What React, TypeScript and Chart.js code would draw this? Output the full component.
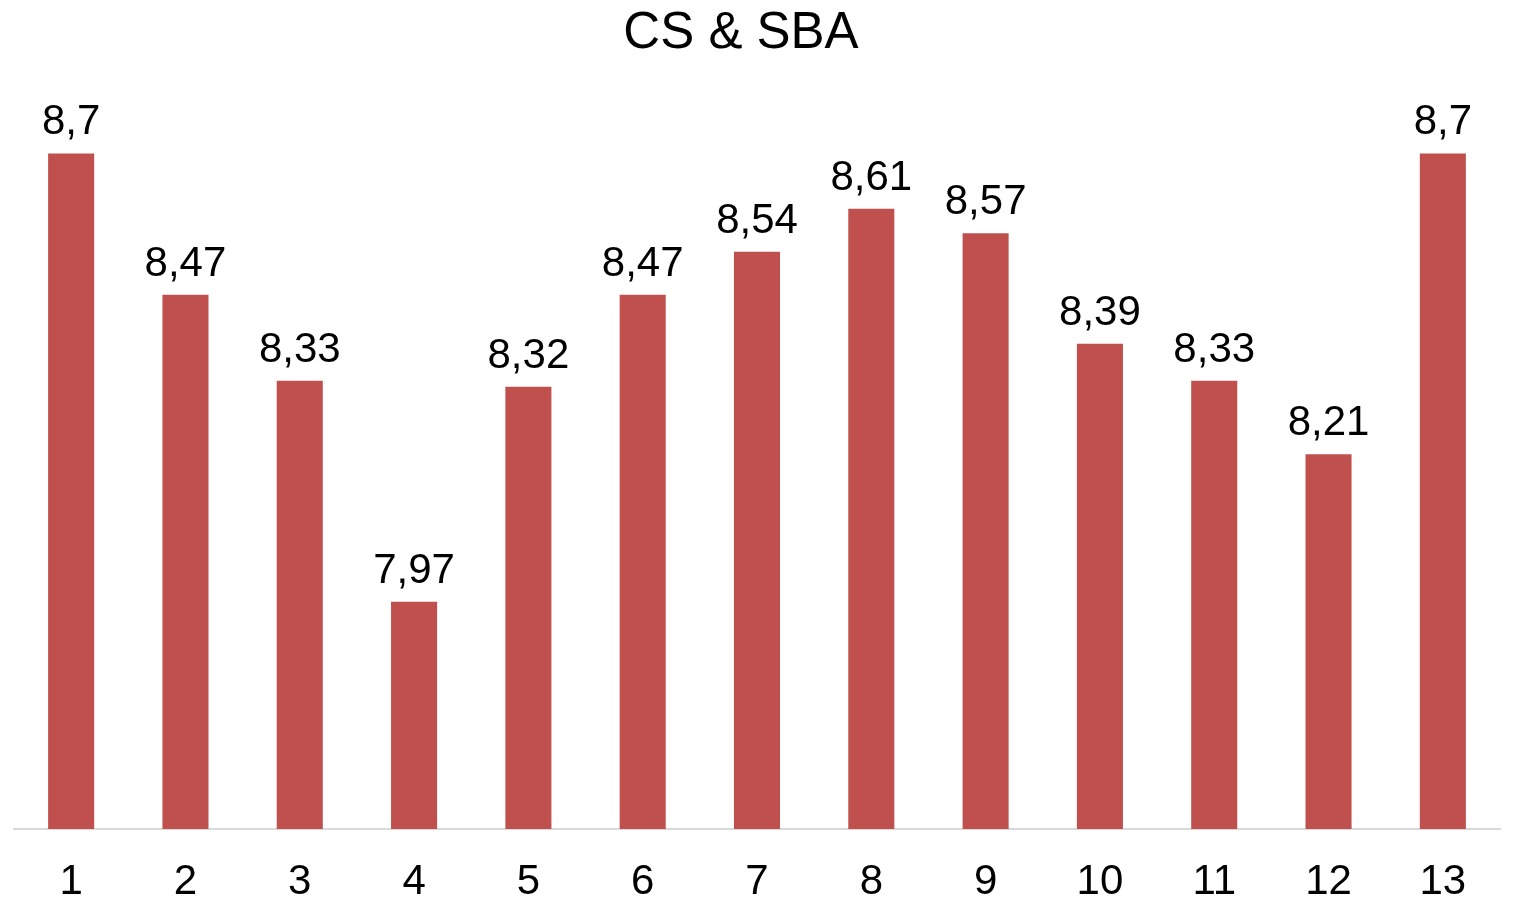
import React, { useEffect, useRef } from "react";
import { Chart, registerables } from "chart.js";

Chart.register(...registerables);

const categories = ["1", "2", "3", "4", "5", "6", "7", "8", "9", "10", "11", "12", "13"];
const values = [8.7, 8.47, 8.33, 7.97, 8.32, 8.47, 8.54, 8.61, 8.57, 8.39, 8.33, 8.21, 8.7];
const chartTitle = "CS & SBA";
const yMin = 7.6;
const yMax = 8.8;

const FONT = "'Liberation Sans', Arial, sans-serif";

const labelPlugin = {
  id: "valueLabels",
  afterDatasetsDraw(chart: any) {
    const ctx = chart.ctx;
    const meta = chart.getDatasetMeta(0);
    ctx.save();
    ctx.font = `42px ${FONT}`;
    ctx.fillStyle = "#000000";
    ctx.textAlign = "center";
    ctx.textBaseline = "alphabetic";
    meta.data.forEach((bar: any, i: number) => {
      const txt = String(values[i]).replace(".", ",");
      ctx.fillText(txt, bar.x, bar.y - 19);
    });
    ctx.restore();
  },
};

const titlePlugin = {
  id: "customTitle",
  afterDraw(chart: any) {
    const ctx = chart.ctx;
    ctx.save();
    ctx.font = `51px ${FONT}`;
    ctx.fillStyle = "#000000";
    ctx.textAlign = "center";
    ctx.textBaseline = "alphabetic";
    ctx.fillText(chartTitle, 741, 48);
    ctx.restore();
  },
};

export default function App() {
  const ref = useRef<HTMLCanvasElement>(null);
  useEffect(() => {
    if (!ref.current) return;
    const chart = new Chart(ref.current, {
      type: "bar",
      data: {
        labels: categories,
        datasets: [
          {
            data: values,
            backgroundColor: "#c0504d",
            borderWidth: 0,
            barPercentage: 0.403,
            categoryPercentage: 1,
          },
        ],
      },
      options: {
        animation: false,
        responsive: true,
        maintainAspectRatio: false,
        layout: { padding: { left: 14, right: 14, top: 92, bottom: 0 } },
        plugins: {
          legend: { display: false },
          tooltip: { enabled: false },
          title: { display: false },
        },
        scales: {
          x: {
            grid: { display: false, drawTicks: false },
            border: { display: true, color: "#d9d9d9", width: 2 },
            ticks: {
              color: "#000000",
              font: { family: FONT, size: 42 },
              padding: 28,
            },
            afterFit(scale: any) {
              scale.height = 68;
            },
          },
          y: {
            display: false,
            min: yMin,
            max: yMax,
          },
        },
      },
      plugins: [labelPlugin, titlePlugin],
    });
    return () => chart.destroy();
  }, []);
  return (
    <div style={{ position: "absolute", left: 0, top: 0, width: 1514, height: 897, background: "#ffffff" }}>
      <canvas ref={ref} />
    </div>
  );
}
